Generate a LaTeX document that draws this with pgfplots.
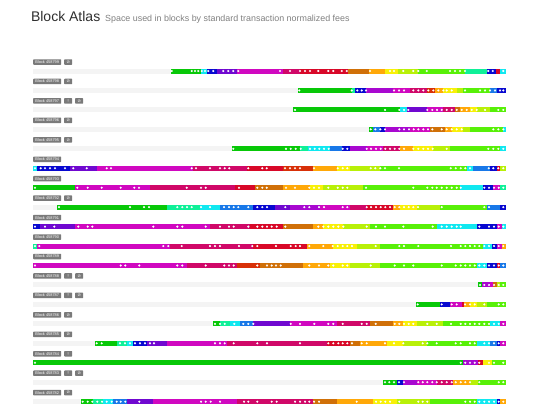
\documentclass[border=0pt]{standalone}
\usepackage{pgfplots}
\pgfplotsset{compat=1.18}
\usepackage{fontspec}
\setmainfont{Liberation Sans}
\newfontfamily\symf{DejaVu Sans}
\definecolor{g}{HTML}{08C808}
\definecolor{sg}{HTML}{10F098}
\definecolor{cy}{HTML}{10E8F0}
\definecolor{az}{HTML}{1878E8}
\definecolor{bl}{HTML}{0808D0}
\definecolor{vi}{HTML}{7008D0}
\definecolor{pu}{HTML}{A808D0}
\definecolor{ma}{HTML}{D008C0}
\definecolor{cr}{HTML}{D00868}
\definecolor{rd}{HTML}{D80828}
\definecolor{ro}{HTML}{D83008}
\definecolor{ob}{HTML}{D07008}
\definecolor{orr}{HTML}{FFA808}
\definecolor{ye}{HTML}{F8F008}
\definecolor{yg}{HTML}{B8F008}
\definecolor{li}{HTML}{58F008}
\definecolor{tag}{HTML}{7A7A7A}
\definecolor{trk}{HTML}{F4F4F4}
\newcommand{\seg}[4]{\addplot[draw=#4, line width=5pt, forget plot] coordinates {(#1,#3) (#2,#3)};}
\newcommand{\trk}[2]{\addplot[draw=trk, line width=5pt, forget plot] coordinates {(33,#2) (#1,#2)};}
\newcommand{\tagn}[2]{\node[anchor=west, fill=tag, rounded corners=0.6pt, text=white, font=\fontsize{3.9}{4}\selectfont, inner xsep=2.2pt, inner ysep=0.9pt, minimum height=5.5pt] at (axis cs:33,#1) {Block #2};}
\newcommand{\badge}[3]{\node[anchor=west, fill=tag, rounded corners=0.6pt, text=white, font=\symf\fontsize{4}{4}\selectfont, inner sep=0pt, minimum width=8pt, minimum height=5.5pt] at (axis cs:#1,#2) {#3};}
\begin{document}
\begin{tikzpicture}
\begin{axis}[width=540pt, height=405pt, scale only axis, xmin=0, xmax=540, ymin=0, ymax=405, y dir=reverse, hide axis, clip=false]
\path (axis cs:0,0) rectangle (axis cs:540,405);
\node[anchor=base west, font=\fontsize{14}{14}\selectfont, text=black!82] at (axis cs:27.5,21.5) {Block Atlas};
\node[anchor=base west, font=\fontsize{8.9}{9}\selectfont, text=black!50, inner sep=0pt] at (axis cs:105,21.5) {Space used in blocks by standard transaction normalized fees};
% tags
\tagn{62}{458799}\badge{64}{62}{⊘}
\tagn{81.45}{458798}\badge{64}{81.45}{⊘}
\tagn{100.9}{458797}\badge{64}{100.9}{!}\badge{75}{100.9}{⊘}
\tagn{120.35}{458796}\badge{64}{120.35}{⊘}
\tagn{139.8}{458795}\badge{64}{139.8}{⊘}
\tagn{159.25}{458794}
\tagn{178.7}{458793}
\tagn{198.15}{458792}\badge{64}{198.15}{⊘}
\tagn{217.6}{458791}
\tagn{237.05}{458790}
\tagn{256.5}{458789}
\tagn{275.95}{458788}\badge{64}{275.95}{!}\badge{75}{275.95}{⊘}
\tagn{295.4}{458787}\badge{64}{295.4}{!}\badge{75}{295.4}{⊘}
\tagn{314.85}{458786}\badge{64}{314.85}{⊘}
\tagn{334.3}{458785}\badge{64}{334.3}{⊘}
\tagn{353.75}{458784}\badge{64}{353.75}{!}
\tagn{373.2}{458783}\badge{64}{373.2}{!}\badge{75}{373.2}{⊘}
\tagn{392.65}{458782}\badge{64}{392.65}{⊘}
% tracks
\trk{171}{71}\trk{298}{90.45}\trk{293}{109.9}\trk{369}{129.35}\trk{232}{148.8}
\trk{57}{207.15}\trk{478}{284.95}\trk{416}{304.4}\trk{213}{323.85}\trk{95}{343.3}\trk{383}{382.2}\trk{81}{401.65}
% R1
\seg{171}{201}{71}{g}\seg{201}{207}{71}{cy}\seg{207}{217}{71}{bl}\seg{217}{237}{71}{vi}\seg{237}{283}{71}{ma}\seg{283}{300}{71}{cr}\seg{300}{348}{71}{rd}\seg{348}{369}{71}{ob}\seg{369}{385}{71}{orr}\seg{385}{398}{71}{ye}\seg{398}{418}{71}{yg}\seg{418}{465}{71}{li}\seg{465}{487}{71}{sg}\seg{487}{496}{71}{bl}\seg{496}{500}{71}{rd}\seg{500}{506}{71}{cy}
% R2
\seg{298}{352}{90.45}{g}\seg{352}{355}{90.45}{sg}\seg{355}{366}{90.45}{bl}\seg{366}{393}{90.45}{pu}\seg{393}{410}{90.45}{ma}\seg{410}{427}{90.45}{cr}\seg{427}{435}{90.45}{ro}\seg{435}{443}{90.45}{orr}\seg{443}{457}{90.45}{ye}\seg{457}{463}{90.45}{yg}\seg{463}{490}{90.45}{li}\seg{490}{497}{90.45}{az}\seg{497}{506}{90.45}{bl}
% R3
\seg{293}{400}{109.9}{g}\seg{400}{407}{109.9}{cy}\seg{407}{427}{109.9}{vi}\seg{427}{443}{109.9}{ma}\seg{443}{455}{109.9}{cr}\seg{455}{460}{109.9}{ob}\seg{460}{470}{109.9}{orr}\seg{470}{477}{109.9}{ye}\seg{477}{490}{109.9}{yg}\seg{490}{506}{109.9}{li}
% R4
\seg{369}{373}{129.35}{g}\seg{373}{380}{129.35}{az}\seg{380}{385}{129.35}{bl}\seg{385}{410}{129.35}{pu}\seg{410}{430}{129.35}{ma}\seg{430}{445}{129.35}{ob}\seg{445}{452}{129.35}{orr}\seg{452}{463}{129.35}{ye}\seg{463}{470}{129.35}{yg}\seg{470}{503}{129.35}{li}\seg{503}{506}{129.35}{cy}
% R5
\seg{232}{300}{148.8}{g}\seg{300}{308}{148.8}{sg}\seg{308}{330}{148.8}{cy}\seg{330}{342}{148.8}{az}\seg{342}{350}{148.8}{bl}\seg{350}{367}{148.8}{pu}\seg{367}{383}{148.8}{ma}\seg{383}{400}{148.8}{cr}\seg{400}{413}{148.8}{orr}\seg{413}{433}{148.8}{ye}\seg{433}{450}{148.8}{yg}\seg{450}{500}{148.8}{li}\seg{500}{506}{148.8}{cy}
% R6
\seg{33}{37}{168.25}{cy}\seg{37}{70}{168.25}{bl}\seg{70}{97}{168.25}{vi}\seg{97}{193}{168.25}{ma}\seg{193}{247}{168.25}{cr}\seg{247}{283}{168.25}{rd}\seg{283}{313}{168.25}{ro}\seg{313}{337}{168.25}{orr}\seg{337}{350}{168.25}{ye}\seg{350}{380}{168.25}{yg}\seg{380}{467}{168.25}{li}\seg{467}{473}{168.25}{cy}\seg{473}{490}{168.25}{az}\seg{490}{497}{168.25}{bl}\seg{497}{500}{168.25}{rd}\seg{500}{506}{168.25}{yg}
% R7
\seg{33}{75}{187.7}{g}\seg{75}{150}{187.7}{ma}\seg{150}{235}{187.7}{cr}\seg{235}{255}{187.7}{rd}\seg{255}{283}{187.7}{ob}\seg{283}{310}{187.7}{orr}\seg{310}{323}{187.7}{ye}\seg{323}{363}{187.7}{yg}\seg{363}{460}{187.7}{li}\seg{460}{483}{187.7}{cy}\seg{483}{493}{187.7}{bl}\seg{493}{500}{187.7}{ma}\seg{500}{506}{187.7}{sg}
% R8
\seg{57}{167}{207.15}{g}\seg{167}{200}{207.15}{sg}\seg{200}{220}{207.15}{cy}\seg{220}{253}{207.15}{az}\seg{253}{275}{207.15}{bl}\seg{275}{290}{207.15}{vi}\seg{290}{320}{207.15}{pu}\seg{320}{350}{207.15}{ma}\seg{350}{367}{207.15}{cr}\seg{367}{393}{207.15}{rd}\seg{393}{400}{207.15}{orr}\seg{400}{417}{207.15}{ye}\seg{417}{440}{207.15}{yg}\seg{440}{487}{207.15}{li}\seg{487}{500}{207.15}{az}\seg{500}{506}{207.15}{bl}
% R9
\seg{33}{40}{226.6}{bl}\seg{40}{75}{226.6}{vi}\seg{75}{210}{226.6}{ma}\seg{210}{250}{226.6}{cr}\seg{250}{283}{226.6}{rd}\seg{283}{313}{226.6}{ob}\seg{313}{323}{226.6}{orr}\seg{323}{343}{226.6}{ye}\seg{343}{370}{226.6}{yg}\seg{370}{437}{226.6}{li}\seg{437}{477}{226.6}{cy}\seg{477}{497}{226.6}{bl}\seg{497}{502}{226.6}{ma}\seg{502}{506}{226.6}{cy}
% R10
\seg{33}{37}{246.05}{sg}\seg{37}{170}{246.05}{ma}\seg{170}{253}{246.05}{cr}\seg{253}{307}{246.05}{rd}\seg{307}{333}{246.05}{orr}\seg{333}{357}{246.05}{ye}\seg{357}{380}{246.05}{yg}\seg{380}{483}{246.05}{li}\seg{483}{492}{246.05}{cy}\seg{492}{497}{246.05}{bl}\seg{497}{502}{246.05}{ma}\seg{502}{506}{246.05}{orr}
% R11
\seg{33}{187}{265.5}{ma}\seg{187}{237}{265.5}{cr}\seg{237}{260}{265.5}{ro}\seg{260}{303}{265.5}{ob}\seg{303}{330}{265.5}{orr}\seg{330}{350}{265.5}{ye}\seg{350}{380}{265.5}{yg}\seg{380}{477}{265.5}{li}\seg{477}{487}{265.5}{cy}\seg{487}{497}{265.5}{bl}\seg{497}{500}{265.5}{rd}\seg{500}{506}{265.5}{az}
% R12
\seg{478}{482}{284.95}{g}\seg{482}{490}{284.95}{pu}\seg{490}{493}{284.95}{ma}\seg{493}{497}{284.95}{ob}\seg{497}{500}{284.95}{yg}\seg{500}{506}{284.95}{li}
% R13
\seg{416}{440}{304.4}{g}\seg{440}{450}{304.4}{bl}\seg{450}{462}{304.4}{ma}\seg{462}{464}{304.4}{rd}\seg{464}{470}{304.4}{orr}\seg{470}{477}{304.4}{ye}\seg{477}{487}{304.4}{yg}\seg{487}{506}{304.4}{li}
% R14
\seg{213}{220}{323.85}{g}\seg{220}{230}{323.85}{sg}\seg{230}{240}{323.85}{cy}\seg{240}{253}{323.85}{az}\seg{253}{290}{323.85}{vi}\seg{290}{337}{323.85}{ma}\seg{337}{370}{323.85}{cr}\seg{370}{393}{323.85}{ob}\seg{393}{403}{323.85}{orr}\seg{403}{417}{323.85}{ye}\seg{417}{443}{323.85}{yg}\seg{443}{490}{323.85}{li}\seg{490}{500}{323.85}{cy}\seg{500}{506}{323.85}{ma}
% R15
\seg{95}{117}{343.3}{g}\seg{117}{127}{343.3}{sg}\seg{127}{133}{343.3}{cy}\seg{133}{147}{343.3}{bl}\seg{147}{167}{343.3}{vi}\seg{167}{227}{343.3}{ma}\seg{227}{327}{343.3}{cr}\seg{327}{350}{343.3}{rd}\seg{350}{360}{343.3}{ob}\seg{360}{387}{343.3}{orr}\seg{387}{403}{343.3}{ye}\seg{403}{427}{343.3}{yg}\seg{427}{477}{343.3}{li}\seg{477}{490}{343.3}{cy}\seg{490}{497}{343.3}{az}\seg{497}{500}{343.3}{bl}\seg{500}{506}{343.3}{ma}
% R16
\seg{33}{463}{362.75}{g}\seg{463}{478}{362.75}{pu}\seg{478}{483}{362.75}{rd}\seg{483}{492}{362.75}{ye}\seg{492}{506}{362.75}{li}
% R17
\seg{383}{397}{382.2}{g}\seg{397}{403}{382.2}{bl}\seg{403}{417}{382.2}{pu}\seg{417}{437}{382.2}{ma}\seg{437}{453}{382.2}{cr}\seg{453}{470}{382.2}{orr}\seg{470}{478}{382.2}{yg}\seg{478}{506}{382.2}{li}
% R18
\seg{81}{93}{401.65}{g}\seg{93}{103}{401.65}{sg}\seg{103}{113}{401.65}{cy}\seg{113}{127}{401.65}{az}\seg{127}{153}{401.65}{vi}\seg{153}{237}{401.65}{ma}\seg{237}{313}{401.65}{cr}\seg{313}{337}{401.65}{ob}\seg{337}{373}{401.65}{orr}\seg{373}{397}{401.65}{ye}\seg{397}{430}{401.65}{yg}\seg{430}{477}{401.65}{li}\seg{477}{497}{401.65}{cy}\seg{497}{500}{401.65}{bl}\seg{500}{506}{401.65}{orr}
% dots
\addplot[only marks, white, mark=*, mark size=0.95pt, mark options={line width=0.2pt, draw=white, fill=white}, forget plot] coordinates {
(171.7,71)(191.7,71)(195,71)(198.3,71)(201.7,71)(205,71)(208.3,71)(213.3,71)(223.3,71)(228.3,71)(233.3,71)(238.3,71)(280,71)(290,71)(300,71)(305,71)(310,71)(318.3,71)(328.3,71)(333.3,71)(341.7,71)(346.7,71)(370,71)(390,71)(394,71)(403.3,71)(413.3,71)(418.3,71)(426.7,71)(450,71)(455,71)(460,71)(465,71)(488.3,71)(492.7,71)(503.3,71)
(299.3,90.45)(351.7,90.45)(357.3,90.45)(361.7,90.45)(366,90.45)(394,90.45)(399,90.45)(404,90.45)(413.3,90.45)(418.3,90.45)(423.3,90.45)(428.3,90.45)(433.3,90.45)(438.3,90.45)(443.3,90.45)(446.7,90.45)(451.7,90.45)(465,90.45)(480,90.45)(485,90.45)(490,90.45)(495,90.45)(500,90.45)(503.3,90.45)
(295,109.9)(385,109.9)(399.3,109.9)(404,109.9)(408.3,109.9)(427.3,109.9)(432.3,109.9)(437,109.9)(441.7,109.9)(446.7,109.9)(451.7,109.9)(456.7,109.9)(461.7,109.9)(466.7,109.9)(471.7,109.9)(476.7,109.9)(485,109.9)(498.3,109.9)(503.3,109.9)
(370.7,129.35)(375.3,129.35)(380.3,129.35)(385,129.35)(399.3,129.35)(404,129.35)(409,129.35)(413.7,129.35)(418.3,129.35)(423.3,129.35)(428,129.35)(432.3,129.35)(441.7,129.35)(446.7,129.35)(451.7,129.35)(456.7,129.35)(461.7,129.35)(493.3,129.35)(498.3,129.35)(503.3,129.35)
(233.3,148.8)(286,148.8)(290.7,148.8)(295.7,148.8)(300.7,148.8)(310,148.8)(314.7,148.8)(319.3,148.8)(324,148.8)(328.7,148.8)(342.7,148.8)(347.3,148.8)(366.7,148.8)(371,148.8)(376,148.8)(380.7,148.8)(385.3,148.8)(390,148.8)(394.7,148.8)(399.3,148.8)(404,148.8)(413.3,148.8)(418.3,148.8)(423.3,148.8)(428,148.8)(432.7,148.8)(446.7,148.8)(488.3,148.8)(493.3,148.8)(498.3,148.8)(503.3,148.8)
(35,168.25)(40.7,168.25)(45,168.25)(50,168.25)(55,168.25)(65,168.25)(73.3,168.25)(86.7,168.25)(106.7,168.25)(111,168.25)(191.7,168.25)(196,168.25)(210,168.25)(220,168.25)(224.7,168.25)(229.3,168.25)(248.3,168.25)(262.3,168.25)(266.7,168.25)(285,168.25)(290,168.25)(295,168.25)(300,168.25)(314,168.25)(337.7,168.25)(342.7,168.25)(347.3,168.25)(370.7,168.25)(375.3,168.25)(380.3,168.25)(385,168.25)(399,168.25)(450.7,168.25)(455.7,168.25)(460.7,168.25)(465.3,168.25)(470,168.25)(488.7,168.25)(493.3,168.25)(498.3,168.25)(503.3,168.25)
(35,187.7)(77.3,187.7)(87.7,187.7)(101.7,187.7)(120.7,187.7)(134.3,187.7)(139,187.7)(186.7,187.7)(201,187.7)(205.7,187.7)(239,187.7)(257.3,187.7)(262.3,187.7)(266.7,187.7)(286,187.7)(295,187.7)(309.3,187.7)(314,187.7)(319,187.7)(328.3,187.7)(337.7,187.7)(342.7,187.7)(347.3,187.7)(366,187.7)(413.3,187.7)(427.3,187.7)(432.3,187.7)(436.7,187.7)(441.7,187.7)(446.7,187.7)(451.7,187.7)(456.7,187.7)(460.7,187.7)(484.3,187.7)(489,187.7)(494,187.7)(498.7,187.7)(503.3,187.7)
(59,207.15)(130,207.15)(144,207.15)(149,207.15)(177.3,207.15)(182.3,207.15)(187,207.15)(191.7,207.15)(201,207.15)(210,207.15)(224,207.15)(229,207.15)(233.7,207.15)(238.3,207.15)(248.3,207.15)(257.3,207.15)(262.3,207.15)(267,207.15)(285.3,207.15)(304.3,207.15)(309.3,207.15)(319,207.15)(324,207.15)(342.7,207.15)(347.3,207.15)(366.7,207.15)(371,207.15)(376,207.15)(380.7,207.15)(385.3,207.15)(390,207.15)(394.7,207.15)(399.3,207.15)(404,207.15)(408.7,207.15)(413.3,207.15)(418,207.15)(441.7,207.15)(484.3,207.15)(489,207.15)(503.3,207.15)
(35,226.6)(45,226.6)(54.3,226.6)(78.3,226.6)(87.7,226.6)(92.3,226.6)(153.3,226.6)(177.3,226.6)(182.3,226.6)(205.7,226.6)(220,226.6)(229,226.6)(233.7,226.6)(248.3,226.6)(257.3,226.6)(262.3,226.6)(267,226.6)(271.7,226.6)(276.7,226.6)(285.3,226.6)(318.3,226.6)(323.3,226.6)(328.3,226.6)(333.3,226.6)(338.3,226.6)(343.3,226.6)(366.7,226.6)(376,226.6)(385,226.6)(403.3,226.6)(432.7,226.6)(441.7,226.6)(446.7,226.6)(451.7,226.6)(456.7,226.6)(460.7,226.6)(479.3,226.6)(489,226.6)(494,226.6)(498.7,226.6)(503.3,226.6)
(35,246.05)(39.3,246.05)(163.3,246.05)(168.3,246.05)(181.7,246.05)(210,246.05)(215,246.05)(220,246.05)(239,246.05)(252.3,246.05)(257.3,246.05)(276,246.05)(290.7,246.05)(295.7,246.05)(300,246.05)(309.3,246.05)(323.3,246.05)(332.7,246.05)(337.7,246.05)(342.7,246.05)(347.3,246.05)(352,246.05)(375.7,246.05)(399.3,246.05)(404,246.05)(418.3,246.05)(451,246.05)(460.7,246.05)(465.3,246.05)(470,246.05)(474.7,246.05)(479.3,246.05)(484.3,246.05)(489,246.05)(494,246.05)(498.7,246.05)(503.3,246.05)
(35,265.5)(120.7,265.5)(125.3,265.5)(139.3,265.5)(177.3,265.5)(182.3,265.5)(205.7,265.5)(224.3,265.5)(229,265.5)(233.7,265.5)(257.3,265.5)(267,265.5)(271.7,265.5)(276,265.5)(280.7,265.5)(309.3,265.5)(319,265.5)(328.3,265.5)(333.3,265.5)(342.7,265.5)(347.3,265.5)(370.7,265.5)(394.7,265.5)(404,265.5)(413.3,265.5)(441.7,265.5)(455.7,265.5)(460.7,265.5)(465.3,265.5)(470,265.5)(474.7,265.5)(479.3,265.5)(484.3,265.5)(489,265.5)(494,265.5)(498.7,265.5)(503.3,265.5)
(480,284.95)(484.3,284.95)(489,284.95)(494,284.95)(498.7,284.95)(503.3,284.95)
(417.7,304.4)(441.7,304.4)(451.7,304.4)(456.7,304.4)(465,304.4)(470,304.4)(474.7,304.4)(484.3,304.4)(498.7,304.4)(503.3,304.4)
(215,323.85)(220,323.85)(224.7,323.85)(234.3,323.85)(243.3,323.85)(248.3,323.85)(253.3,323.85)(290.7,323.85)(300,323.85)(314.3,323.85)(328.3,323.85)(333.3,323.85)(342.7,323.85)(361.7,323.85)(366.7,323.85)(375.7,323.85)(394.7,323.85)(399.3,323.85)(404,323.85)(408.7,323.85)(413.3,323.85)(427.3,323.85)(436.7,323.85)(451,323.85)(460.7,323.85)(465.3,323.85)(470,323.85)(474.7,323.85)(479.3,323.85)(484.3,323.85)(489,323.85)(494,323.85)(498.7,323.85)(503.3,323.85)
(96.7,343.3)(101.7,343.3)(120,343.3)(125,343.3)(130,343.3)(135,343.3)(140,343.3)(145,343.3)(150,343.3)(154,343.3)(215,343.3)(220,343.3)(224.7,343.3)(233.7,343.3)(257.3,343.3)(267,343.3)(300,343.3)(328.3,343.3)(333.3,343.3)(338.3,343.3)(342.7,343.3)(347.3,343.3)(352,343.3)(361.7,343.3)(366.7,343.3)(385,343.3)(394,343.3)(403.3,343.3)(422.7,343.3)(427.3,343.3)(436.7,343.3)(455.7,343.3)(460.7,343.3)(470,343.3)(474.7,343.3)(484.3,343.3)(489,343.3)(494,343.3)(498.7,343.3)(503.3,343.3)
(35,362.75)(460.7,362.75)(465.3,362.75)(470,362.75)(474.7,362.75)(479.3,362.75)(489,362.75)(494,362.75)(503.3,362.75)
(385,382.2)(389.3,382.2)(394,382.2)(399,382.2)(404,382.2)(418.3,382.2)(422.7,382.2)(427.3,382.2)(432.3,382.2)(436.7,382.2)(441.7,382.2)(446.7,382.2)(451.7,382.2)(455.7,382.2)(460.7,382.2)(465.3,382.2)(470,382.2)(479.3,382.2)(498.7,382.2)(503.3,382.2)
(82.7,401.65)(87.7,401.65)(92.3,401.65)(97.3,401.65)(102,401.65)(106.7,401.65)(111.7,401.65)(116.7,401.65)(120.7,401.65)(125.3,401.65)(139.3,401.65)(201,401.65)(205.7,401.65)(210.7,401.65)(220,401.65)(244,401.65)(248.3,401.65)(257.3,401.65)(271.7,401.65)(276.7,401.65)(295,401.65)(300,401.65)(305,401.65)(309.3,401.65)(314,401.65)(319,401.65)(356.7,401.65)(376,401.65)(380.7,401.65)(385.3,401.65)(390,401.65)(399.3,401.65)(418.3,401.65)(422.7,401.65)(427.3,401.65)(465.3,401.65)(470,401.65)(474.7,401.65)(479.3,401.65)(484.3,401.65)(489,401.65)(494,401.65)(498.7,401.65)(503.3,401.65)
};
\end{axis}
\end{tikzpicture}
\end{document}
